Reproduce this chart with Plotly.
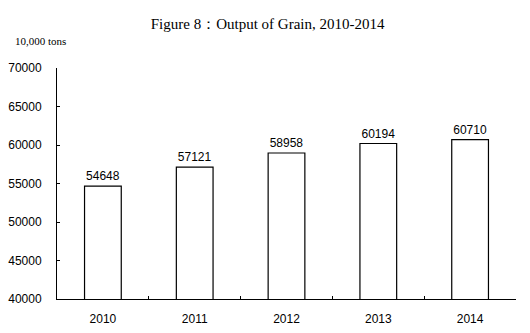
import plotly.graph_objects as go

years = ["2010", "2011", "2012", "2013", "2014"]
output = [54648, 57121, 58958, 60194, 60710]
y_ticks = [40000, 45000, 50000, 55000, 60000, 65000, 70000]
y_tick_labels = [str(v) for v in y_ticks]

fig = go.Figure()
fig.add_trace(go.Bar(
    x=years, y=output,
    marker=dict(color="white", line=dict(color="black", width=1.2)),
    width=0.4,
    text=[str(v) for v in output], textposition="outside",
    textfont=dict(family="Liberation Sans, Arial", size=12, color="black"),
    cliponaxis=False,
))
fig.update_layout(
    width=530, height=333,
    margin=dict(l=57, r=14, t=68, b=34),
    paper_bgcolor="white", plot_bgcolor="white",
    showlegend=False,
    title=dict(text="Figure 8：Output of Grain, 2010-2014", x=0.505, xanchor="center",
               y=0.93, yanchor="middle",
               font=dict(family="Liberation Serif, Times New Roman", size=15, color="black")),
    annotations=[dict(text="10,000 tons", xref="paper", yref="paper", x=-0.095, y=1.115,
                      xanchor="left", yanchor="middle", showarrow=False,
                      font=dict(family="Liberation Serif, Times New Roman", size=11, color="black"))],
    xaxis=dict(showline=True, linecolor="black", linewidth=1, ticks="inside", ticklen=3,
               tickson="boundaries", tickcolor="black", showgrid=False, ticklabelstandoff=9,
               automargin=False,
               tickfont=dict(family="Liberation Sans, Arial", size=12, color="black")),
    yaxis=dict(range=[40000, 70000], tickvals=y_ticks, ticktext=y_tick_labels, showline=True,
               linecolor="black", linewidth=1, ticks="inside", ticklen=3, tickcolor="black",
               showgrid=False, zeroline=False, ticklabelstandoff=12, automargin=False,
               tickfont=dict(family="Liberation Sans, Arial", size=12, color="black")),
    bargap=0.6,
)
fig.write_html("out.html")
